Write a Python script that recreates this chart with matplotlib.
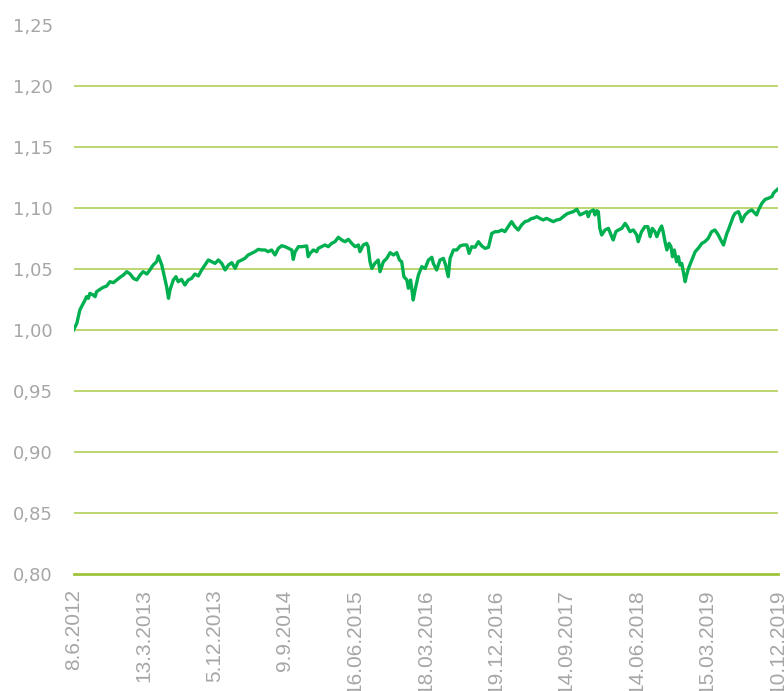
import matplotlib
matplotlib.use("Agg")
import matplotlib.pyplot as plt

# trading-day index of each observation (0 = 8.6.2012, 1890 = 10.12.2019)
day = [0, 9, 17, 24, 31, 35, 40, 44, 53, 58, 62, 71, 80, 89, 98, 107, 116, 125, 134, 143,
       152, 161, 170, 179, 187, 197, 205, 214, 223, 228, 237, 246, 250, 255, 259, 268, 275, 281, 290, 299,
       308, 317, 326, 335, 344, 353, 362, 371, 380, 389, 398, 407, 416, 425, 434, 442, 452, 460, 469, 478,
       487, 496, 505, 514, 523, 532, 541, 550, 559, 568, 577, 586, 590, 595, 604, 613,
       626, 630, 635, 644, 653, 657, 666, 675, 684, 693, 702, 711, 720, 729, 738, 747, 756, 765, 769, 778,
       787, 791, 796, 801, 809, 818, 823, 832, 841, 850, 859, 868, 875, 881, 887, 895, 899, 905, 912, 917, 926,
       935, 944, 953, 962, 966, 975, 984, 993, 999, 1006, 1011, 1020, 1029, 1038, 1047, 1056, 1062, 1069, 1078,
       1087, 1096, 1105, 1114, 1123, 1132, 1140, 1150, 1158, 1167, 1176, 1185, 1194, 1203, 1212, 1221, 1230,
       1234, 1244, 1252, 1261, 1270, 1279, 1288, 1297, 1306, 1315, 1324, 1333, 1342, 1351, 1360, 1369, 1378,
       1382, 1387, 1396, 1400, 1405, 1409, 1413, 1418, 1427, 1436, 1445, 1449, 1456, 1463, 1472, 1481, 1487,
       1494, 1503, 1512, 1516, 1525, 1534,
       1542, 1548, 1554, 1561, 1566, 1575, 1579, 1583, 1588, 1593, 1599, 1604, 1608, 1613, 1619, 1624, 1628,
       1633, 1637, 1642, 1646, 1651, 1660, 1669, 1677, 1687, 1695, 1704, 1713, 1722, 1731, 1740, 1745, 1749,
       1754, 1758, 1763, 1771, 1776, 1785, 1789, 1794, 1798, 1803, 1812, 1821, 1830, 1834, 1839, 1848, 1857,
       1865, 1875, 1879, 1883, 1890]

value = [1.000, 1.0055, 1.0164, 1.0205, 1.0246, 1.0273, 1.026, 1.030, 1.0287, 1.0273, 1.0314, 1.0333, 1.035, 1.036, 1.0396, 1.0388, 1.041, 1.0432, 1.0451, 1.0478,
         1.0459, 1.0423, 1.041, 1.0451, 1.0478, 1.0459, 1.0492, 1.0533, 1.056, 1.0607, 1.0533, 1.041, 1.0355, 1.026, 1.0328, 1.041, 1.0437, 1.0396, 1.0415, 1.0369,
         1.041, 1.0423, 1.0459, 1.0443, 1.0492, 1.0533, 1.0574, 1.056, 1.0546, 1.0574, 1.0546, 1.0492, 1.0533, 1.0552, 1.0505, 1.056, 1.0574, 1.0587, 1.0615, 1.0628,
         1.0642, 1.0661, 1.0656, 1.0656, 1.0642, 1.0656, 1.0615, 1.0669, 1.0691, 1.0683, 1.0669, 1.0656, 1.0579, 1.0642, 1.0683, 1.0683,
         1.0689, 1.0601, 1.0628, 1.0656, 1.0642, 1.0669, 1.0683, 1.0697, 1.0683, 1.071, 1.0724, 1.076, 1.0738, 1.0724, 1.0743, 1.071, 1.0683, 1.0697, 1.0642, 1.0697,
         1.071, 1.0683, 1.056, 1.0505, 1.0546, 1.0574, 1.0478, 1.056, 1.0587, 1.0634, 1.0615, 1.0634, 1.0574, 1.056, 1.0437, 1.041, 1.0342, 1.041, 1.0246, 1.0328, 1.0451,
         1.0519, 1.0505, 1.0574, 1.0596, 1.0546, 1.0492, 1.0574, 1.0587, 1.0533, 1.0437, 1.0587, 1.0656, 1.0656, 1.0689, 1.0697, 1.0697, 1.0628, 1.0683, 1.0678,
         1.0724, 1.0689, 1.0669, 1.0678, 1.0792, 1.0806, 1.0806, 1.082, 1.0806, 1.0847, 1.0888, 1.0847, 1.082, 1.0861, 1.0888, 1.0896, 1.0915,
         1.0915, 1.0929, 1.0915, 1.0902, 1.0915, 1.0902, 1.0888, 1.0902, 1.0907, 1.0929, 1.0951, 1.0962, 1.097, 1.0989, 1.0943, 1.0956, 1.097,
         1.0929, 1.097, 1.0984, 1.0943, 1.0978, 1.097, 1.0833, 1.0779, 1.082, 1.0833, 1.0765, 1.0738, 1.0806, 1.082, 1.0833, 1.0874, 1.0847,
         1.0806, 1.082, 1.0779, 1.0724, 1.0806, 1.0847,
         1.0847, 1.0765, 1.0833, 1.0806, 1.0765, 1.0833, 1.0852, 1.0806, 1.0724, 1.0656, 1.071, 1.0683, 1.0601, 1.0656, 1.056, 1.0601, 1.0533,
         1.0546, 1.0478, 1.0396, 1.0451, 1.0505, 1.0574, 1.0642, 1.0669, 1.071, 1.0724, 1.0751, 1.0806, 1.082, 1.0779, 1.0724, 1.0697, 1.0738,
         1.0792, 1.082, 1.0861, 1.0929, 1.0956, 1.097, 1.0943, 1.0888, 1.0915, 1.0943, 1.097, 1.0984, 1.0956, 1.0943, 1.0984, 1.1038, 1.1071,
         1.1079, 1.1093, 1.112, 1.1134, 1.1153]

tick_days = [0, 189, 378, 567, 756, 945, 1134, 1323, 1512, 1701, 1890]
tick_labels = ["8.6.2012", "13.3.2013", "5.12.2013", "9.9.2014", "16.06.2015", "18.03.2016",
               "19.12.2016", "14.09.2017", "14.06.2018", "15.03.2019", "10.12.2019"]
y_ticks = [0.80, 0.85, 0.90, 0.95, 1.00, 1.05, 1.10, 1.15, 1.20, 1.25]

W, H = 784, 691
fig = plt.figure(figsize=(W / 100, H / 100), dpi=100)
ax = fig.add_axes([73.5 / W, 1 - 574 / H, (777.5 - 73.5) / W, (574 - 25) / H])

grid_c = "#B0CF5A"
for yv in y_ticks[1:-1]:
    ax.axhline(yv, color=grid_c, lw=1.2, zorder=1)

ax.plot(day, value, color="#00B050", lw=2.4, zorder=3, solid_joinstyle="round")

ax.set_xlim(0, 1890)
ax.set_ylim(0.80, 1.25)
for s in ["top", "right", "left"]:
    ax.spines[s].set_visible(False)
ax.spines["bottom"].set_color("#9DC43A")
ax.spines["bottom"].set_linewidth(2.0)
ax.spines["bottom"].set_zorder(2)

ax.set_yticks(y_ticks)
ax.set_yticklabels([f"{v:.2f}".replace(".", ",") for v in y_ticks],
                   fontfamily="DejaVu Sans", fontsize=13, color="#A6A6A6")
ax.set_xticks(tick_days)
ax.set_xticklabels(tick_labels, rotation=90, fontfamily="Liberation Sans",
                   fontsize=15, color="#A6A6A6")
ax.tick_params(axis="y", length=0, pad=15)
ax.tick_params(axis="x", length=0, pad=11)

fig.savefig("out.png", dpi=100)
